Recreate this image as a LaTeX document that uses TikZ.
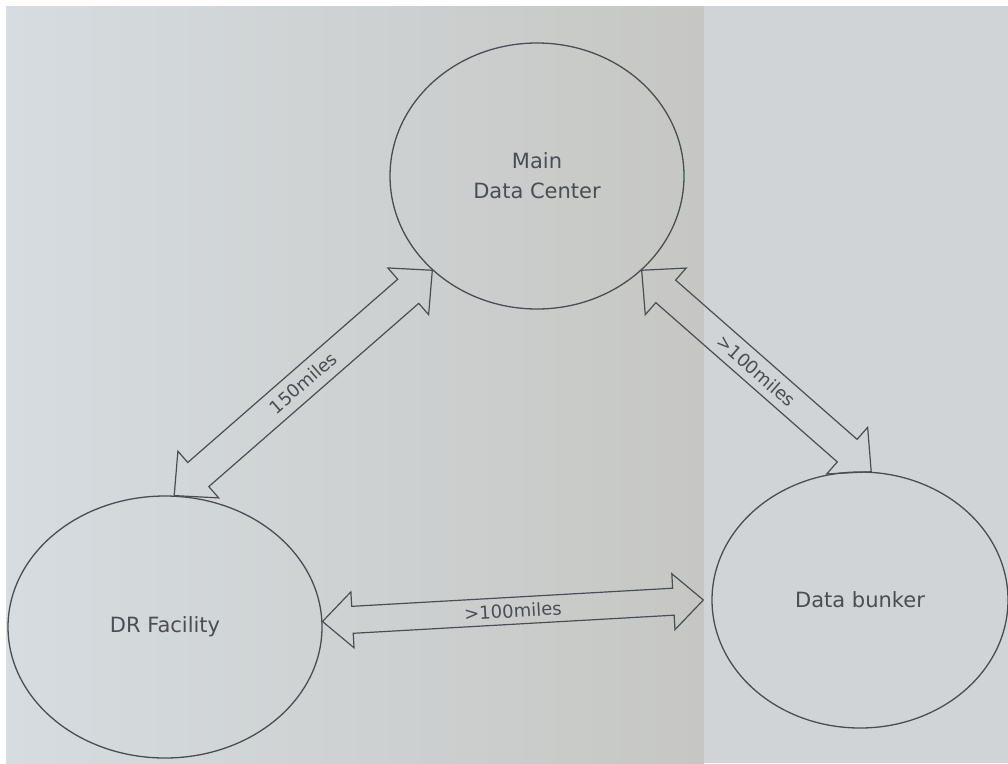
\documentclass[tikz,border=0pt]{standalone}
\usepackage{fontspec}
\setmainfont{DejaVu Sans}
\usetikzlibrary{shapes.geometric,calc}
\definecolor{ink}{HTML}{4A4E52}
\definecolor{txt}{HTML}{4A4E52}
\definecolor{bgL}{HTML}{D6DCE0}
\definecolor{bgM}{HTML}{C6C7C4}
\definecolor{bgR}{HTML}{D0D4D6}
\tikzset{
  site/.style={ellipse, draw=ink, line width=1.3pt, inner sep=0pt, text=txt,
    font=\fontsize{21}{30}\selectfont, align=center},
  blockarrow/.style={draw=ink, line width=1.2pt, line join=miter},
  dist/.style={text=txt, font=\fontsize{18}{20}\selectfont, inner sep=0pt},
}
\newcommand\dblarrow[5]{% tip A, tip B, head length, head half width, shaft half width
  \coordinate (ha) at ($(#1)!#3!(#2)$);
  \coordinate (hb) at ($(#2)!#3!(#1)$);
  \draw[blockarrow] (#1) -- ($(ha)!#4!90:(#2)$) -- ($(ha)!#5!90:(#2)$)
    -- ($(hb)!#5!-90:(#1)$) -- ($(hb)!#4!-90:(#1)$) -- (#2)
    -- ($(hb)!#4!90:(#1)$) -- ($(hb)!#5!90:(#1)$)
    -- ($(ha)!#5!-90:(#2)$) -- ($(ha)!#4!-90:(#2)$) -- cycle;
}
\begin{document}
\begin{tikzpicture}[x=1pt,y=-1pt]
\useasboundingbox (0,0) rectangle (1008,763);
\fill[white] (0,0) rectangle (1008,763);
\shade[left color=bgL, right color=bgM] (6,6) rectangle (704,763);
\fill[bgR] (704,6) rectangle (1008,763);

\node[site, minimum width=294pt, minimum height=266pt] (main) at (537,176) {Main\\Data Center};
\node[site, minimum width=314pt, minimum height=262pt] (dr) at (165,627) {DR Facility};
\node[site, minimum width=296pt, minimum height=256pt] (bunker) at (860,600) {Data bunker};

\coordinate (drtop) at (dr.86);
\coordinate (mainsw) at (main.222);
\coordinate (mainse) at (main.318);
\coordinate (bunktop) at (bunker.85);
\coordinate (drright) at (dr.2);
\coordinate (bunkleft) at ([xshift=-8pt]bunker.180);

\dblarrow{drtop}{mainsw}{32pt}{31pt}{16pt}
\dblarrow{mainse}{bunktop}{32pt}{31pt}{15pt}
\dblarrow{drright}{bunkleft}{30pt}{28pt}{13.5pt}

\path (drtop) -- (mainsw) node[dist, midway, sloped] {150miles};
\path (mainse) -- (bunktop) node[dist, midway, sloped] {>100miles};
\path (drright) -- (bunkleft) node[dist, midway, sloped] {>100miles};
\end{tikzpicture}
\end{document}
